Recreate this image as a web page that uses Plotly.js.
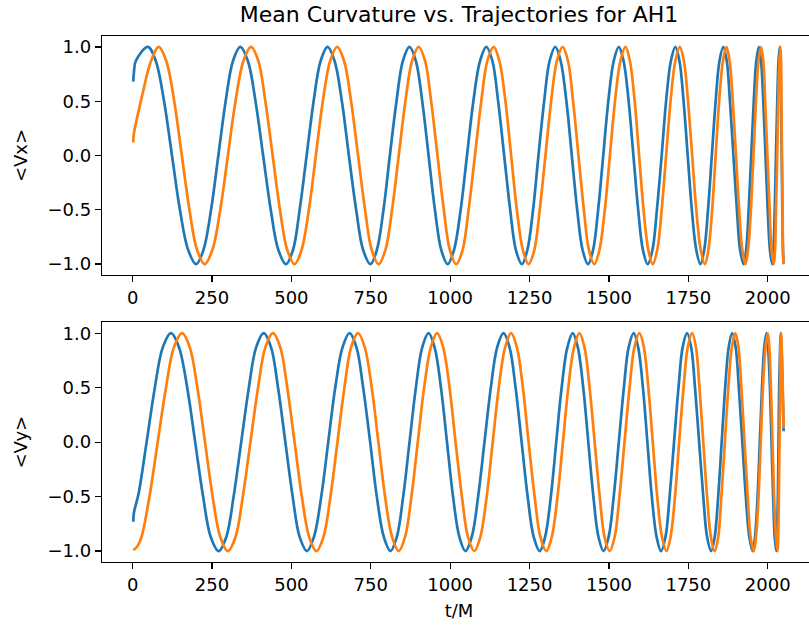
<!DOCTYPE html>
<html>
<head>
<meta charset="utf-8">
<script src="https://cdn.plot.ly/plotly-3.0.1.min.js"></script>
<style>
html,body{margin:0;padding:0;overflow:hidden;background:#fff;}
#chart{width:826px;height:628px;}
</style>
</head>
<body>
<div id="chart"></div>
<script>
// Points (t/M, value)
const tVxBlue = [2, 4, 10,
  48, 73, 99, 124, 149, 175, 200, 223, 247, 270, 293, 316,
  339, 363, 387, 411, 435, 459, 483, 505, 526, 548, 570, 592,
  614, 636, 659, 681, 704, 726, 749, 769, 790, 810, 831, 851,
  872, 892, 912, 932, 952, 972, 992, 1012, 1033, 1053, 1073, 1094,
  1114, 1133, 1151, 1170, 1189, 1207, 1226, 1243, 1261, 1278, 1296, 1313,
  1331, 1348, 1366, 1383, 1400, 1417, 1434, 1450, 1466, 1482, 1498, 1515,
  1531, 1546, 1562, 1577, 1592, 1607, 1622, 1637, 1651, 1666, 1680, 1695,
  1709, 1722, 1735, 1748, 1761, 1775, 1788, 1800, 1812, 1824, 1836, 1848,
  1860, 1871, 1881, 1892, 1903, 1913, 1924, 1932, 1940, 1948, 1956, 1964,
  1972, 1979, 1986, 1993, 2000, 2007, 2014, 2018, 2022, 2026, 2030, 2034,
  2038, 2040, 2042, 2044, 2046, 2048, 2050];
const vxBlue = [0.68, 0.76, 0.87,
  1, 0.87, 0.5, 0, -0.5, -0.87, -1, -0.87, -0.5, 0, 0.5, 0.87,
  1, 0.87, 0.5, 0, -0.5, -0.87, -1, -0.87, -0.5, 0, 0.5, 0.87,
  1, 0.87, 0.5, 0, -0.5, -0.87, -1, -0.87, -0.5, 0, 0.5, 0.87,
  1, 0.87, 0.5, 0, -0.5, -0.87, -1, -0.87, -0.5, 0, 0.5, 0.87,
  1, 0.87, 0.5, 0, -0.5, -0.87, -1, -0.87, -0.5, 0, 0.5, 0.87,
  1, 0.87, 0.5, 0, -0.5, -0.87, -1, -0.87, -0.5, 0, 0.5, 0.87,
  1, 0.87, 0.5, 0, -0.5, -0.87, -1, -0.87, -0.5, 0, 0.5, 0.87,
  1, 0.87, 0.5, 0, -0.5, -0.87, -1, -0.87, -0.5, 0, 0.5, 0.87,
  1, 0.87, 0.5, 0, -0.5, -0.87, -1, -0.87, -0.5, 0, 0.5, 0.87,
  1, 0.87, 0.5, 0, -0.5, -0.87, -1, -0.87, -0.5, 0, 0.5, 0.87,
  1, 0.87, 0.5, 0, -0.5, -0.87, -1];

const tVxOrange = [2, 4, 30, 58,
  82, 106, 131, 155, 179, 203, 227, 251, 276, 300, 324, 349,
  373, 396, 418, 441, 464, 487, 510, 532, 555, 577, 599, 622,
  644, 666, 688, 710, 732, 753, 775, 796, 817, 838, 859, 880,
  901, 921, 940, 960, 980, 999, 1019, 1039, 1058, 1078, 1098, 1117,
  1137, 1155, 1174, 1192, 1210, 1229, 1247, 1265, 1282, 1300, 1318, 1336,
  1354, 1371, 1387, 1404, 1421, 1437, 1454, 1470, 1487, 1503, 1519, 1536,
  1552, 1566, 1581, 1595, 1609, 1624, 1638, 1652, 1666, 1680, 1694, 1709,
  1723, 1736, 1749, 1762, 1775, 1789, 1802, 1813, 1825, 1836, 1847, 1859,
  1870, 1880, 1890, 1900, 1910, 1920, 1930, 1938, 1947, 1955, 1963, 1971,
  1979, 1986, 1992, 1999, 2006, 2012, 2019, 2023, 2026, 2030, 2033, 2037,
  2040, 2042, 2043, 2045, 2047, 2048, 2050];
const vxOrange = [0.12, 0.2, 0.55, 0.87,
  1, 0.87, 0.5, 0, -0.5, -0.87, -1, -0.87, -0.5, 0, 0.5, 0.87,
  1, 0.87, 0.5, 0, -0.5, -0.87, -1, -0.87, -0.5, 0, 0.5, 0.87,
  1, 0.87, 0.5, 0, -0.5, -0.87, -1, -0.87, -0.5, 0, 0.5, 0.87,
  1, 0.87, 0.5, 0, -0.5, -0.87, -1, -0.87, -0.5, 0, 0.5, 0.87,
  1, 0.87, 0.5, 0, -0.5, -0.87, -1, -0.87, -0.5, 0, 0.5, 0.87,
  1, 0.87, 0.5, 0, -0.5, -0.87, -1, -0.87, -0.5, 0, 0.5, 0.87,
  1, 0.87, 0.5, 0, -0.5, -0.87, -1, -0.87, -0.5, 0, 0.5, 0.87,
  1, 0.87, 0.5, 0, -0.5, -0.87, -1, -0.87, -0.5, 0, 0.5, 0.87,
  1, 0.87, 0.5, 0, -0.5, -0.87, -1, -0.87, -0.5, 0, 0.5, 0.87,
  1, 0.87, 0.5, 0, -0.5, -0.87, -1, -0.87, -0.5, 0, 0.5, 0.87,
  1, 0.87, 0.5, 0, -0.5, -0.87, -1];

const tVyBlue = [2, 4, 19, 44, 70, 95,
  121, 146, 172, 197, 222, 246, 271, 295, 318, 342, 366, 389,
  413, 436, 458, 481, 504, 526, 549, 571, 594, 616, 638, 661,
  683, 705, 726, 748, 769, 791, 812, 832, 852, 872, 892, 912,
  932, 951, 971, 990, 1009, 1029, 1048, 1068, 1088, 1108, 1128, 1148,
  1168, 1187, 1206, 1225, 1244, 1263, 1282, 1299, 1317, 1334, 1351, 1369,
  1386, 1402, 1419, 1435, 1451, 1467, 1483, 1499, 1515, 1531, 1547, 1562,
  1578, 1592, 1607, 1621, 1635, 1650, 1664, 1678, 1691, 1705, 1719, 1732,
  1746, 1759, 1771, 1784, 1797, 1809, 1822, 1833, 1844, 1855, 1866, 1877,
  1888, 1899, 1909, 1920, 1931, 1942, 1953, 1960, 1968, 1975, 1982, 1989,
  1996, 2001, 2007, 2012, 2017, 2022, 2027, 2029, 2032, 2034, 2036, 2039,
  2041, 2050];
const vyBlue = [-0.73, -0.65, -0.47, 0, 0.5, 0.87,
  1, 0.87, 0.5, 0, -0.5, -0.87, -1, -0.87, -0.5, 0, 0.5, 0.87,
  1, 0.87, 0.5, 0, -0.5, -0.87, -1, -0.87, -0.5, 0, 0.5, 0.87,
  1, 0.87, 0.5, 0, -0.5, -0.87, -1, -0.87, -0.5, 0, 0.5, 0.87,
  1, 0.87, 0.5, 0, -0.5, -0.87, -1, -0.87, -0.5, 0, 0.5, 0.87,
  1, 0.87, 0.5, 0, -0.5, -0.87, -1, -0.87, -0.5, 0, 0.5, 0.87,
  1, 0.87, 0.5, 0, -0.5, -0.87, -1, -0.87, -0.5, 0, 0.5, 0.87,
  1, 0.87, 0.5, 0, -0.5, -0.87, -1, -0.87, -0.5, 0, 0.5, 0.87,
  1, 0.87, 0.5, 0, -0.5, -0.87, -1, -0.87, -0.5, 0, 0.5, 0.87,
  1, 0.87, 0.5, 0, -0.5, -0.87, -1, -0.87, -0.5, 0, 0.5, 0.87,
  1, 0.87, 0.5, 0, -0.5, -0.87, -1, -0.87, -0.5, 0, 0.5, 0.87,
  1, 0.1];

const tVyOrange = [2, 14, 28, 53, 79, 105, 130,
  156, 180, 204, 228, 252, 276, 300, 324, 347, 371, 395, 418,
  442, 465, 487, 510, 533, 556, 579, 601, 623, 645, 667, 688,
  710, 731, 753, 774, 795, 817, 838, 858, 878, 898, 918, 939,
  959, 978, 998, 1017, 1037, 1056, 1076, 1095, 1115, 1134, 1153, 1173,
  1192, 1210, 1229, 1247, 1266, 1284, 1303, 1320, 1338, 1355, 1372, 1390,
  1407, 1423, 1439, 1455, 1471, 1486, 1502, 1518, 1533, 1549, 1565, 1580,
  1596, 1610, 1624, 1638, 1652, 1667, 1681, 1694, 1708, 1721, 1735, 1748,
  1762, 1774, 1785, 1797, 1809, 1821, 1833, 1844, 1854, 1865, 1876, 1887,
  1898, 1908, 1917, 1927, 1937, 1946, 1956, 1963, 1971, 1978, 1985, 1993,
  2000, 2005, 2010, 2015, 2020, 2026, 2031, 2033, 2035, 2037, 2039, 2040,
  2042, 2050];
const vyOrange = [-0.99, -0.96, -0.87, -0.5, 0, 0.5, 0.87,
  1, 0.87, 0.5, 0, -0.5, -0.87, -1, -0.87, -0.5, 0, 0.5, 0.87,
  1, 0.87, 0.5, 0, -0.5, -0.87, -1, -0.87, -0.5, 0, 0.5, 0.87,
  1, 0.87, 0.5, 0, -0.5, -0.87, -1, -0.87, -0.5, 0, 0.5, 0.87,
  1, 0.87, 0.5, 0, -0.5, -0.87, -1, -0.87, -0.5, 0, 0.5, 0.87,
  1, 0.87, 0.5, 0, -0.5, -0.87, -1, -0.87, -0.5, 0, 0.5, 0.87,
  1, 0.87, 0.5, 0, -0.5, -0.87, -1, -0.87, -0.5, 0, 0.5, 0.87,
  1, 0.87, 0.5, 0, -0.5, -0.87, -1, -0.87, -0.5, 0, 0.5, 0.87,
  1, 0.87, 0.5, 0, -0.5, -0.87, -1, -0.87, -0.5, 0, 0.5, 0.87,
  1, 0.87, 0.5, 0, -0.5, -0.87, -1, -0.87, -0.5, 0, 0.5, 0.87,
  1, 0.87, 0.5, 0, -0.5, -0.87, -1, -0.87, -0.5, 0, 0.5, 0.87,
  1, 0.13];

const xTicks = [0, 250, 500, 750, 1000, 1250, 1500, 1750, 2000];
const yTicks = [-1.0, -0.5, 0.0, 0.5, 1.0];

const blue = '#1f77b4', orange = '#ff7f0e';
const font = {family: 'DejaVu Sans', size: 18, color: '#000'};

function tr(x, y, color, xa, ya) {
  return {x: x, y: y, xaxis: xa, yaxis: ya, type: 'scatter', mode: 'lines',
    line: {color: color, width: 2.7, shape: 'spline', smoothing: 1}, hoverinfo: 'skip'};
}

const data = [
  tr(tVxBlue, vxBlue, blue, 'x', 'y'),
  tr(tVxOrange, vxOrange, orange, 'x', 'y'),
  tr(tVyBlue, vyBlue, blue, 'x2', 'y2'),
  tr(tVyOrange, vyOrange, orange, 'x2', 'y2')
];

function xax(anchor, title) {
  const a = {anchor: anchor, domain: [0, 1], range: [-96.4, 2152], tickvals: xTicks,
    ticks: 'outside', ticklen: 6, tickwidth: 1.3, tickcolor: '#000',
    showline: true, linecolor: '#000', linewidth: 1.3, mirror: true,
    showgrid: false, zeroline: false, tickfont: font, fixedrange: true};
  if (title) a.title = {text: title, font: font, standoff: 10};
  return a;
}
function yax(anchor, domain, title) {
  return {anchor: anchor, domain: domain, range: [-1.1, 1.1], tickvals: yTicks, tickformat: '.1f',
    ticks: 'outside', ticklen: 6, tickwidth: 1.3, tickcolor: '#000',
    showline: true, linecolor: '#000', linewidth: 1.3, mirror: true,
    showgrid: false, zeroline: false, tickfont: font, fixedrange: true,
    title: {text: title, font: font, standoff: 15}};
}

const layout = {
  width: 826, height: 628,
  margin: {l: 102, r: 10, t: 36, b: 66},
  paper_bgcolor: '#fff', plot_bgcolor: '#fff',
  showlegend: false,
  title: {text: 'Mean Curvature vs. Trajectories for AH1', font: {family: 'DejaVu Sans', size: 22, color: '#000'},
    x: 0.5, xref: 'paper', xanchor: 'center', y: 1 - 14/628, yref: 'container', yanchor: 'middle'},
  xaxis: xax('y'),
  yaxis: yax('x', [0.5456, 1], '&lt;Vx&gt;'),
  xaxis2: xax('y2', 't/M'),
  yaxis2: yax('x2', [0, 0.4557], '&lt;Vy&gt;')
};

Plotly.newPlot('chart', data, layout, {staticPlot: true, displayModeBar: false});
</script>
</body>
</html>
